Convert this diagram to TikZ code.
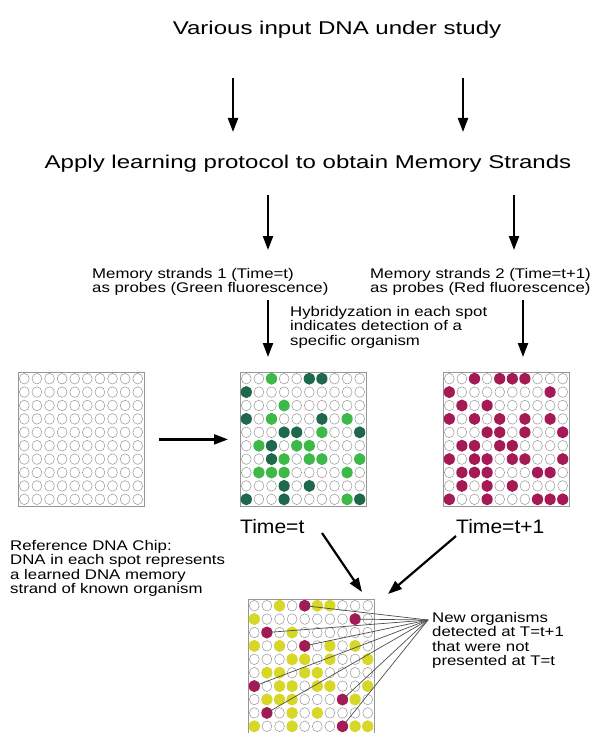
\documentclass[tikz,border=0pt]{standalone}
\usepackage{fontspec}
\setmainfont[FakeStretch=1.3]{Liberation Sans}
\newfontfamily\notefont[FakeStretch=1.2]{Liberation Sans}
\newfontfamily\timefont[FakeStretch=1.08]{Liberation Sans}
\usetikzlibrary{arrows.meta}

\definecolor{dotgreen}{RGB}{60,185,70}
\definecolor{dotdkgreen}{RGB}{30,105,75}
\definecolor{dotred}{RGB}{165,25,85}
\definecolor{dotyellow}{RGB}{215,215,40}
\definecolor{spotline}{RGB}{150,150,150}

\tikzset{
  flow/.style={line width=2.2pt, -{Triangle[length=14pt,width=10pt]}},
  small/.style={font=\notefont\fontsize{14}{14.5}\selectfont, align=left, inner sep=0pt},
  big/.style={font=\fontsize{18.5}{20}\selectfont, inner sep=0pt},
  timelbl/.style={font=\timefont\fontsize{19.5}{21}\selectfont, inner sep=0pt},
  chip/.style={draw=spotline, line width=0.8pt, fill=white, minimum width=126pt,
    minimum height=134pt, inner sep=0pt, anchor=north west},
  fan/.style={draw=black!70, line width=0.7pt},
}

% empty spots of a 10 x 10 chip
\newcommand\chipspots[1]{%
  \begin{scope}[shift={(#1.north west)}]
    \foreach \r in {1,...,10}{\foreach \c in {1,...,10}{%
      \draw[spotline, line width=0.5pt] ({\c*12.6-6.3},{\r*13.4-6.7}) ellipse (4.9pt and 5.3pt);}}
  \end{scope}}

\begin{document}
\begin{tikzpicture}[x=1pt, y=-1pt]
\useasboundingbox (0,0) rectangle (613,733);

% headings
\node[big, anchor=base] (title) at (337,34.6) {Various input DNA under study};
\node[big, anchor=base] (apply) at (308,168.6) {Apply learning protocol to obtain Memory Strands};

\coordinate (a1s) at (233,78);  \coordinate (a1e) at (233,132);
\coordinate (a2s) at (463,78);  \coordinate (a2e) at (463,132);
\draw[flow] (a1s) -- (a1e);
\draw[flow] (a2s) -- (a2e);

\coordinate (b1s) at (268,195); \coordinate (b1e) at (268,250);
\coordinate (b2s) at (514,195); \coordinate (b2e) at (514,250);
\draw[flow] (b1s) -- (b1e);
\draw[flow] (b2s) -- (b2e);

% probe descriptions
\node[small, anchor=north west] (mem1) at (92,268)
  {Memory strands 1 (Time=t)\\as probes (Green fluorescence)};
\node[small, anchor=north west] (mem2) at (370,268)
  {Memory strands 2 (Time=t+1)\\as probes (Red fluorescence)};
\node[small, anchor=north west] (hyb) at (290,306)
  {Hybridyzation in each spot\\indicates detection of a\\specific organism};

\coordinate (c1s) at (268,300); \coordinate (c1e) at (268,357);
\coordinate (c2s) at (523,300); \coordinate (c2e) at (523,357);
\draw[flow] (c1s) -- (c1e);
\draw[flow] (c2s) -- (c2e);

% chips
\node[chip] (refchip) at (18,372) {};
\node[chip] (chipt) at (240,372) {};
\node[chip] (chipt1) at (443,372) {};
\node[chip] (chipmix) at (248,599) {};
\chipspots{refchip}
\chipspots{chipt}
\chipspots{chipt1}
\chipspots{chipmix}

% green probes, time t
\begin{scope}[shift={(chipt.north west)}]
\foreach \r/\c/\k in {1/3/dotgreen,1/6/dotdkgreen,1/7/dotdkgreen,
  2/1/dotdkgreen, 3/4/dotgreen,
  4/1/dotdkgreen,4/3/dotgreen,4/7/dotdkgreen,4/9/dotgreen,
  5/4/dotdkgreen,5/5/dotdkgreen,5/7/dotgreen,5/10/dotdkgreen,
  6/2/dotgreen,6/3/dotdkgreen,6/5/dotgreen,6/6/dotgreen,
  7/3/dotdkgreen,7/4/dotgreen,7/6/dotgreen,7/7/dotgreen,7/10/dotgreen,
  8/2/dotgreen,8/3/dotgreen,8/4/dotgreen,8/9/dotgreen,
  9/4/dotdkgreen,9/6/dotdkgreen,
  10/1/dotdkgreen,10/4/dotdkgreen,10/9/dotgreen,10/10/dotdkgreen}
  \fill[\k] ({\c*12.6-6.3},{\r*13.4-6.7}) ellipse (5.6pt and 6pt);
\end{scope}

% red probes, time t+1
\begin{scope}[shift={(chipt1.north west)}]
\foreach \r/\c in {1/3,1/5,1/6,1/7, 2/1,2/9, 3/2,3/4,
  4/1,4/3,4/5,4/7,4/9, 5/4,5/5,5/7,5/10, 6/2,6/3,6/5,6/6,
  7/1,7/3,7/4,7/6,7/7,7/10, 8/2,8/3,8/4,8/8,8/9, 9/2,9/4,9/6,
  10/1,10/4,10/8,10/9,10/10}
  \fill[dotred] ({\c*12.6-6.3},{\r*13.4-6.7}) ellipse (5.6pt and 6pt);
\end{scope}

% combined read-out
\begin{scope}[shift={(chipmix.north west)}]
\foreach \r/\c in {1/3,1/6,1/7, 2/1, 3/4, 4/1,4/3,4/7,4/9, 5/4,5/5,5/7,5/10,
  6/2,6/3,6/5,6/6, 7/3,7/4,7/6,7/7,7/10, 8/2,8/3,8/4,8/9, 9/4,9/6,
  10/1,10/4,10/9,10/10}
  \fill[dotyellow] ({\c*12.6-6.3},{\r*13.4-6.7}) ellipse (5.6pt and 6pt);
\foreach \r/\c [count=\i] in {1/5,2/9,3/2,4/5,7/1,8/8,9/2,10/8}{
  \fill[dotred] ({\c*12.6-6.3},{\r*13.4-6.7}) ellipse (5.6pt and 6pt);
  \coordinate (m\i) at ({\c*12.6-6.3},{\r*13.4-6.7});}
\end{scope}

\coordinate (fanpt) at (428,620);
\foreach \i in {1,...,8} \draw[fan] (fanpt) -- (m\i);

% chip to chip
\draw[flow] (refchip.east) ++(14,0) coordinate (r1) -- ([xshift=-12pt]chipt.west);

% time labels
\node[timelbl, anchor=base west] (timet) at (240,533) {Time=t};
\node[timelbl, anchor=base west] (timet1) at (456,533) {Time=t+1};

\coordinate (d1s) at (322,533); \coordinate (d1e) at (362,592);
\coordinate (d2s) at (456,536); \coordinate (d2e) at (388,594);
\draw[flow] (d1s) -- (d1e);
\draw[flow] (d2s) -- (d2e);

% captions
\node[small, anchor=north west] (reftext) at (10,540)
  {Reference DNA Chip:\\DNA in each spot represents\\a learned DNA memory\\strand of known organism};
\node[small, anchor=north west] (newtext) at (432,612)
  {New organisms\\detected at T=t+1\\that were not\\presented at T=t};
\end{tikzpicture}
\end{document}
